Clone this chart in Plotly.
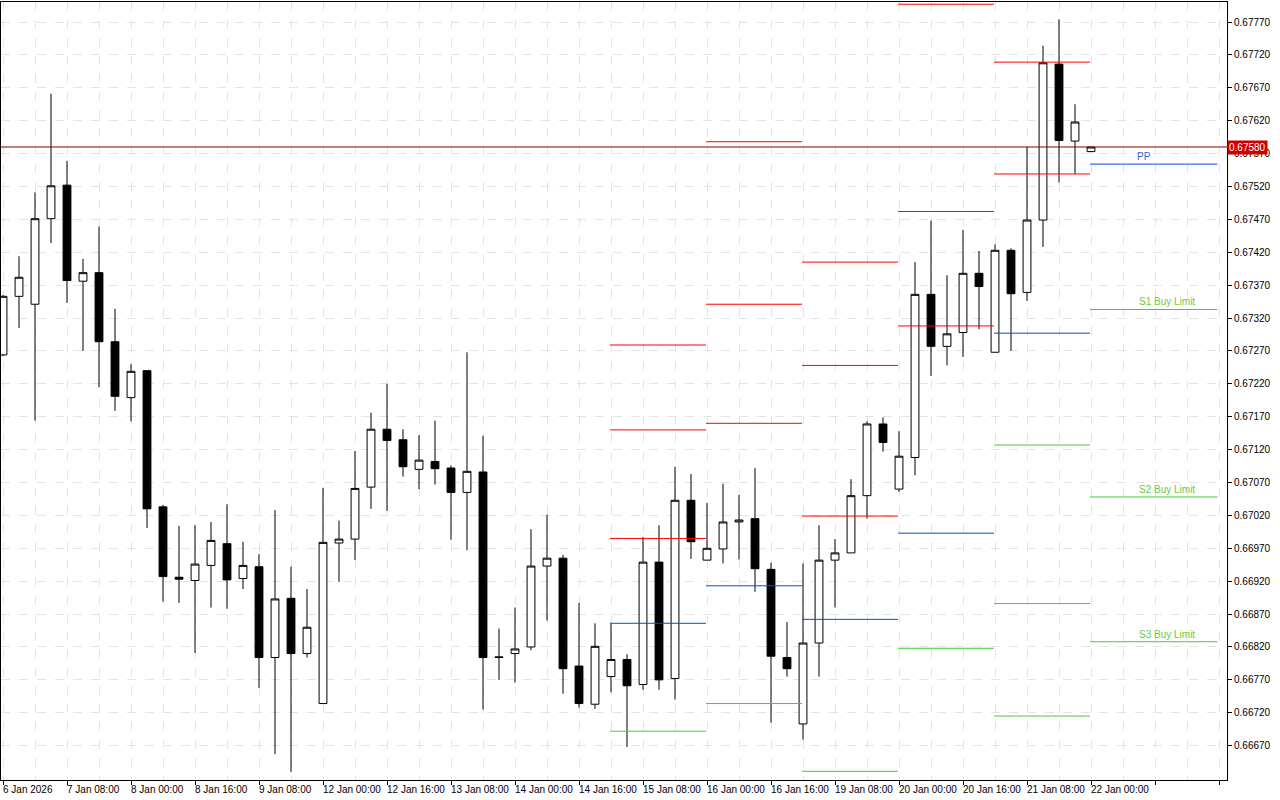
import plotly.graph_objects as go

# EURUSD-style 4h bars, prices in units of 1e-5
opens = [67264, 67353, 67341, 67471, 67522, 67376, 67389, 67284, 67199, 67240,
         67033, 66926, 66921, 66944, 66977, 66924, 66942, 66804, 66894, 66810,
         66734, 66978, 66984, 67063, 67151, 67135, 67090, 67102, 67092, 67055,
         67086, 66805, 66810, 66820, 66943, 66955, 66791, 66733, 66775, 66801,
         66763, 66949, 66772, 67043, 66952, 66969, 67010, 67015, 66938, 66804,
         66703, 66826, 66952, 66963, 67050, 67159, 67060, 67108, 67356, 67277,
         67298, 67388, 67268, 67423, 67359, 67469, 67706, 67589, 67573]
highs = [67355, 67414, 67511, 67661, 67559, 67410, 67459, 67334, 67250, 67241,
         67036, 67004, 67005, 67010, 67037, 66980, 66961, 67028, 66942, 66908,
         67062, 67012, 67118, 67176, 67220, 67151, 67142, 67164, 67096, 67268,
         67141, 66848, 66880, 66999, 67021, 66960, 66887, 66856, 66856, 66809,
         66987, 67005, 67094, 67083, 67039, 67068, 67051, 67092, 66948, 66858,
         66947, 67005, 66984, 67075, 67163, 67169, 67148, 67405, 67468, 67385,
         67454, 67422, 67432, 67426, 67580, 67734, 67774, 67645, 67580]
lows = [67262, 67305, 67164, 67434, 67343, 67270, 67215, 67179, 67163, 67001,
        66889, 66887, 66811, 66880, 66878, 66908, 66758, 66657, 66630, 66804,
        66734, 66919, 66952, 67030, 67027, 67079, 67060, 67067, 66983, 66967,
        66725, 66770, 66766, 66815, 66860, 66749, 66728, 66726, 66751, 66668,
        66755, 66755, 66740, 66954, 66952, 66947, 66953, 66904, 66705, 66775,
        66679, 66775, 66880, 66963, 67015, 67117, 67056, 67081, 67232, 67248,
        67261, 67303, 67268, 67270, 67346, 67428, 67526, 67539, 67573]
closes = [67353, 67382, 67471, 67521, 67377, 67389, 67284, 67201, 67239, 67030,
          66927, 66923, 66946, 66982, 66922, 66944, 66804, 66893, 66810, 66850,
          66979, 66984, 67061, 67151, 67134, 67094, 67104, 67091, 67055, 67087,
          66804, 66804, 66817, 66943, 66955, 66787, 66734, 66821, 66801, 66761,
          66949, 66770, 67043, 66980, 66970, 67010, 67013, 66939, 66806, 66787,
          66826, 66952, 66963, 67050, 67159, 67131, 67110, 67356, 67277, 67296,
          67388, 67368, 67423, 67357, 67469, 67708, 67590, 67618, 67580]

x_labels = ["6 Jan 2026", "7 Jan 08:00", "8 Jan 00:00", "8 Jan 16:00", "9 Jan 08:00",
            "12 Jan 00:00", "12 Jan 16:00", "13 Jan 08:00", "14 Jan 00:00", "14 Jan 16:00",
            "15 Jan 08:00", "16 Jan 00:00", "16 Jan 16:00", "19 Jan 08:00", "20 Jan 00:00",
            "20 Jan 16:00", "21 Jan 08:00", "22 Jan 00:00"]

# daily pivot levels: start bar, resistance levels, pivot, supports
day_start = [38, 44, 50, 56, 62, 68]
day_res = [[67279, 67150, 66985], [67588, 67341, 67160], [67405, 67248, 67019],
           [67797, 67482, 67308], [67709, 67539], []]
day_pp = [66856, 66913, 66862, 66993, 67297, 67554]
day_sup = [[66692], [66734], [66631], [66818], [67127, 66886, 66715], [67333, 67048, 66828]]
current_price = 67580

sc = 1e-5
n = len(opens)
xs = list(range(n))
FONT = "Liberation Sans"

fig = go.Figure()
fig.add_trace(go.Candlestick(
    x=xs, open=[v * sc for v in opens], high=[v * sc for v in highs],
    low=[v * sc for v in lows], close=[v * sc for v in closes],
    increasing=dict(fillcolor="white", line=dict(color="black", width=1)),
    decreasing=dict(fillcolor="black", line=dict(color="black", width=1)),
    whiskerwidth=0, showlegend=False, hoverinfo="skip"))

for k, s in enumerate(day_start):
    x0 = s - 0.06
    x1 = s + 6 - 0.06 if k < len(day_start) - 1 else 75.9
    for v in day_res[k]:
        fig.add_trace(go.Scatter(x=[x0, x1], y=[v * sc] * 2, mode="lines",
                                 line=dict(color="#ff0000", width=1), showlegend=False, hoverinfo="skip"))
    fig.add_trace(go.Scatter(x=[x0, x1], y=[day_pp[k] * sc] * 2, mode="lines",
                             line=dict(color="#0050d0", width=1), showlegend=False, hoverinfo="skip"))
    for v in day_sup[k]:
        fig.add_trace(go.Scatter(x=[x0, x1], y=[v * sc] * 2, mode="lines",
                                 line=dict(color="#44cc33", width=1), showlegend=False, hoverinfo="skip"))

# labels on the current day's levels
last = len(day_start) - 1
fig.add_annotation(x=71.3, y=day_pp[last] * sc, text="PP", showarrow=False, yanchor="bottom",
                   font=dict(color="#3366cc", size=10, family=FONT))
for j, v in enumerate(day_sup[last]):
    fig.add_annotation(x=72.75, y=v * sc, text=f"S{j + 1} Buy Limit", showarrow=False,
                       yanchor="bottom", font=dict(color="#66cc44", size=10, family=FONT))

# current price line + label
fig.add_hline(y=current_price * sc, line=dict(color="#8b0000", width=1))
fig.add_annotation(x=1, xref="paper", y=current_price * sc, text=f"{current_price * sc:.5f}",
                   xanchor="left", showarrow=False, bgcolor="#cc0000",
                   font=dict(color="white", size=10, family=FONT), borderpad=1, xshift=0)

for j, lab in enumerate(x_labels):
    fig.add_annotation(x=j * 4, y=0, yref="paper", text=lab, showarrow=False,
                       xanchor="left", yanchor="top", yshift=-2, xshift=-2,
                       font=dict(size=10, color="black", family=FONT))

yt = [0.66670 + 0.0005 * i for i in range(23)]
fig.update_layout(
    width=1280, height=800, plot_bgcolor="white", paper_bgcolor="white",
    margin=dict(l=1, r=53, t=2, b=20),
    xaxis=dict(range=[-0.125, 76.5], rangeslider=dict(visible=False),
               tickvals=list(range(0, 77, 4)), showticklabels=False,
               ticks="outside", ticklen=4, tickcolor="black",
               showgrid=True, gridcolor="#e4e4e4", griddash="dash",
               minor=dict(dtick=2, tick0=0, showgrid=True, gridcolor="#e4e4e4", griddash="dash"),
               showline=True, linecolor="black", mirror=True, zeroline=False),
    yaxis=dict(range=[0.666178, 0.678004], side="right", tickvals=yt,
               ticktext=[f"{v:.5f}" for v in yt], ticks="outside", ticklen=4, tickcolor="black",
               tickfont=dict(size=10, family=FONT, color="black"),
               showgrid=True, gridcolor="#e4e4e4", griddash="dash",
               showline=True, linecolor="black", mirror=True, zeroline=False),
)
fig.write_html("out.html", config={"displayModeBar": False},
               post_script="document.body.style.margin='0';document.body.style.overflow='hidden';")
